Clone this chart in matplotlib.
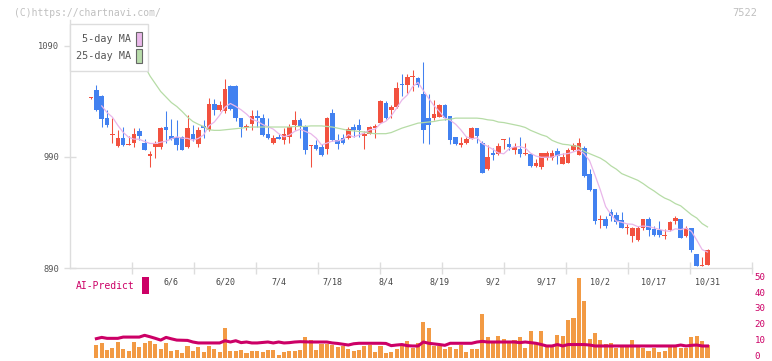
import numpy as np
import matplotlib
matplotlib.use("Agg")
from matplotlib import pyplot as plt
from matplotlib import patches
from matplotlib.transforms import blended_transform_factory, ScaledTranslation

## Daily candles, 5/16 .. 10/31 (116 sessions)
opens = [1043, 1050, 1045, 1025, 1010, 1000, 1007, 1001, 1003, 1013,
         1003, 991, 999, 999, 1017, 1009, 1008, 1008, 999, 1011,
         1002, 1018, 1014, 1038, 1032, 1031, 1054, 1054, 1025, 1017,
         1020, 1027, 1025, 1011, 1003, 1008, 1005, 1008, 1019, 1023,
         1017, 1000, 1001, 999, 997, 1030, 1005, 1007, 1007, 1017,
         1019, 1009, 1011, 1016, 1021, 1039, 1032, 1035, 1056, 1055,
         1062, 1061, 1047, 1025, 1025, 1026, 1037, 1027, 1008, 1001,
         1003, 1006, 1016, 1003, 979, 994, 993, 1005, 1002, 996,
         997, 993, 993, 982, 981, 989, 989, 995, 984, 985,
         996, 992, 998, 975, 961, 933, 934, 940, 938, 933,
         926, 919, 915, 926, 934, 925, 924, 919, 924, 932,
         934, 919, 926, 903, 892, 893]
highs = [1044, 1055, 1046, 1032, 1025, 1014, 1017, 1009, 1016, 1016,
         1006, 995, 1004, 1017, 1031, 1024, 1023, 1009, 1028, 1019,
         1017, 1023, 1043, 1042, 1040, 1060, 1055, 1055, 1025, 1020,
         1032, 1032, 1029, 1025, 1010, 1011, 1016, 1020, 1031, 1025,
         1019, 1001, 1005, 1002, 1026, 1033, 1011, 1011, 1017, 1020,
         1024, 1013, 1018, 1020, 1041, 1040, 1037, 1058, 1065, 1065,
         1068, 1062, 1076, 1047, 1041, 1038, 1038, 1027, 1008, 1008,
         1008, 1017, 1016, 1004, 1001, 998, 1003, 1006, 1008, 1003,
         1008, 1003, 994, 988, 994, 995, 996, 998, 994, 998,
         1003, 1007, 1000, 979, 961, 938, 937, 943, 940, 940,
         930, 927, 928, 934, 936, 928, 932, 925, 932, 937,
         934, 928, 926, 903, 900, 907]
lows = [1042, 1031, 1017, 1017, 1003, 999, 1000, 1001, 999, 1005,
        996, 981, 989, 997, 1003, 1005, 996, 996, 998, 1004,
        999, 1007, 1013, 1028, 1031, 1030, 1032, 1022, 1008, 1014,
        1014, 1017, 1009, 1006, 1002, 1006, 1002, 1003, 1014, 1007,
        993, 981, 996, 991, 993, 1004, 997, 1002, 1006, 1008,
        1008, 997, 1011, 1007, 1021, 1024, 1025, 1034, 1045, 1048,
        1049, 1053, 1003, 1002, 1023, 1026, 1023, 1002, 1001, 999,
        1002, 1006, 1003, 976, 978, 987, 992, 997, 996, 993,
        990, 992, 981, 981, 979, 987, 987, 984, 984, 985,
        995, 992, 972, 959, 930, 926, 926, 932, 930, 926,
        921, 913, 914, 924, 919, 919, 918, 916, 923, 930,
        917, 918, 904, 891.5, 891.5, 893]
closes = [1043, 1032, 1024, 1019, 1010, 1007, 1001, 1002, 1011, 1009,
          996, 993, 1002, 1016, 1014, 1006, 1001, 996, 1016, 1006,
          1014, 1016, 1038, 1032, 1037, 1051, 1033, 1025, 1017, 1018,
          1027, 1025, 1010, 1007, 1007, 1006, 1011, 1017, 1023, 1017,
          996, 1001, 997, 992, 1025, 1005, 1002, 1003, 1015, 1014,
          1014, 1011, 1017, 1018, 1040, 1025, 1035, 1052, 1055, 1062,
          1063, 1055, 1014, 1019, 1029, 1037, 1025, 1005, 1002, 1003,
          1006, 1016, 1009, 976, 990, 992, 1000, 1006, 999, 999,
          993, 994, 982, 985, 994, 994, 994, 991, 990, 996,
          1001, 1003, 973, 960, 932, 934, 928, 937, 931, 926,
          926, 926, 926, 934, 924, 920, 920, 919, 931, 935,
          917, 926, 906, 892, 892, 906]

nan = np.nan
ma5 = [nan, nan, 1036, 1030, 1025.8, 1018.5, 1012.2, 1007.8, 1006.1, 1006.0,
       1003.9, 1002.2, 1002.2, 1003.3, 1004.3, 1006.4, 1008.1, 1007.0, 1006.8, 1005.1,
       1006.7, 1009.8, 1018.1, 1021.5, 1027.6, 1034.9, 1038.2, 1035.6, 1032.5, 1028.7,
       1023.9, 1022.3, 1019.3, 1017.3, 1015.1, 1011.0, 1008.2, 1009.7, 1013.1, 1015.0,
       1013.0, 1011.0, 1007.0, 1000.8, 1002.5, 1004.3, 1004.5, 1005.6, 1010.2, 1008.0,
       1009.8, 1011.7, 1014.5, 1015.1, 1020.1, 1022.2, 1027.0, 1034.0, 1041.3, 1045.8,
       1053.4, 1057.2, 1049.8, 1042.7, 1036.1, 1030.9, 1025.0, 1023.1, 1019.6, 1014.4,
       1008.2, 1006.4, 1007.3, 1002.1, 999.5, 996.8, 993.6, 992.9, 997.4, 999.2,
       999.3, 998.1, 993.4, 990.8, 989.7, 989.8, 989.8, 991.5, 992.5, 993.1,
       994.6, 996.4, 992.8, 986.7, 973.8, 960.4, 945.3, 938.1, 932.3, 931.2,
       929.7, 929.4, 927.2, 927.8, 927.3, 926.1, 924.8, 923.5, 923.1, 925.3,
       924.6, 925.9, 923.0, 915.1, 906.6, 904.4]
ma25 = [nan, nan, nan, nan, nan, nan, nan, nan, nan, nan,
        1072, 1063, 1056, 1049, 1044, 1039, 1035.5, 1031, 1026, 1022,
        1019.5, 1017.5, 1014.5, 1014, 1014, 1014.5, 1015, 1015.5, 1016, 1016.6,
        1017, 1017, 1017, 1017, 1017, 1017, 1017, 1017, 1017.5, 1017.5,
        1017.5, 1018, 1018, 1018, 1017.5, 1017, 1016, 1015, 1014, 1013.5,
        1013, 1012.5, 1011.5, 1011, 1011, 1011, 1012, 1014, 1016, 1017.5,
        1019, 1020.5, 1021, 1021.5, 1022, 1023, 1023.5, 1024, 1025, 1025,
        1025, 1025, 1025, 1024.5, 1023.5, 1023, 1021.5, 1021, 1020, 1019,
        1018, 1016.6, 1014, 1012, 1010, 1008.5, 1005, 1003, 1001.5, 1001,
        1000, 999.5, 995, 993, 991, 989, 986, 982, 979, 975,
        973, 971, 969, 966, 962.5, 959.5, 956, 953, 951, 948,
        946, 942, 938, 935, 930, 927]

## Volume and AI-Predict (lower panel)
volume = [nan, 8.2, 9.5, 5.1, 6.3, 10.1, 5.7, 4.4, 10.1, 7,
          9.5, 10.8, 8.9, 5.7, 9.5, 4.4, 5.1, 3.2, 7.6, 4.4,
          7, 3.8, 7.6, 5.7, 3.8, 18.4, 4.4, 4.4, 5.1, 3.2,
          4.4, 4.4, 3.8, 5.1, 5.1, 1.9, 3.8, 4.4, 4.4, 5.1,
          13.3, 11.4, 5.1, 8.9, 8.9, 8.2, 7, 7.6, 5.7, 4.4,
          5.1, 7.6, 8.2, 3.8, 7.6, 3.2, 3.8, 5.7, 8.2, 10.8,
          6.3, 9.5, 22.6, 18.4, 7.6, 7.6, 5.7, 7, 5.7, 8.2,
          3.8, 5.7, 5.7, 27.8, 13.3, 10.8, 13.9, 12, 10.8, 11.4,
          13.3, 6.3, 17, 8.9, 17, 8.2, 7, 14.5, 13.9, 24,
          24.7, 50, 36, 12, 15.8, 11.4, 8.9, 9.5, 6.3, 7,
          7, 11.4, 7.6, 6.3, 4.4, 6.3, 3.8, 4.4, 7.6, 7.6,
          6.3, 6.3, 13.3, 13.9, 10.8, 8.2]
ai_predict = [nan, 12.0, 12.8, 12.2, 12.2, 12.2, 13.0, 13.0, 13.0, 13.0,
              14.1, 13.2, 12.2, 11.1, 12.8, 11.9, 11.1, 11.0, 10.9, 9.9,
              9.3, 9.3, 9.3, 9.3, 9.3, 10.7, 9.9, 10.7, 9.5, 9.9,
              9.3, 9.3, 9.6, 9.9, 9.3, 9.9, 9.3, 9.5, 9.9, 10.1,
              10.0, 9.9, 9.9, 9.9, 9.9, 9.3, 9.0, 8.5, 8.0, 8.8,
              9.1, 9.1, 9.1, 9.1, 9.1, 9.0, 7.6, 8.0, 8.3, 7.6,
              7.4, 7.4, 9.9, 9.1, 8.7, 8.3, 7.8, 9.1, 9.1, 9.1,
              9.1, 9.1, 9.9, 10.3, 9.9, 9.9, 9.9, 9.9, 9.9, 9.9,
              9.5, 9.9, 9.5, 9.1, 8.3, 7.4, 7.4, 8.3, 7.4, 8.3,
              8.3, 8.3, 8.3, 8.0, 7.4, 7.4, 7.4, 7.4, 7.4, 7.4,
              7.4, 7.4, 7.4, 7.4, 7.4, 7.4, 7.4, 7.4, 7.4, 7.4,
              8.0, 7.4, 7.8, 8.0, 7.4, 7.4]

date_idx = [15, 25, 35, 45, 55, 65, 75, 85, 95, 105, 115]
date_labels = ["6/6", "6/20", "7/4", "7/18", "8/4", "8/19", "9/2", "9/17",
               "10/2", "10/17", "10/31"]
price_ticks = [890, 990, 1090]
vol_ticks = [0, 10, 20, 30, 40, 50]

RED = "#f2513f"
BLUE = "#4281f0"
CRIMSON = "#cc0066"
GRID = "#dddddd"
MONO = "DejaVu Sans Mono"
W, H = 772.0, 361.0

plt.rcParams["font.family"] = MONO

fig = plt.figure(figsize=(W / 100, H / 100), dpi=100)
fig.patch.set_facecolor("white")

x = np.arange(len(opens))
o = np.array(opens, float)
h = np.array(highs, float)
l = np.array(lows, float)
c = np.array(closes, float)
up = c >= o
col = np.where(up, RED, BLUE)
xlim = (-3.92, 123.3)

## price panel
ax = fig.add_axes([70 / W, (H - 268) / H, 682 / W, 248 / H])
ax.set_xlim(*xlim)
ax.set_ylim(890.3, 1113.4)
ax.vlines(x, l, h, colors=col, linewidth=0.75, zorder=3)
body_lo = np.minimum(o, c)
body_h = np.maximum(np.abs(c - o), 0.9)
ax.bar(x, body_h, bottom=body_lo, width=0.86, color=col, linewidth=0, zorder=4)
ax.plot(x, ma5, color="#e9b6ea", linewidth=0.9, zorder=5)
ax.plot(x, ma25, color="#b6dca6", linewidth=0.9, zorder=5)

for s in ["top", "right"]:
    ax.spines[s].set_visible(False)
for s in ["left", "bottom"]:
    ax.spines[s].set_color(GRID)
    ax.spines[s].set_linewidth(1.0)
ax.set_yticks(price_ticks)
ax.set_yticklabels([str(v) for v in price_ticks], fontsize=6.3, color="#555555")
step = (xlim[1] - xlim[0]) / 11.0
ax.set_xticks([xlim[0] + k * step for k in range(1, 12)])
ax.tick_params(axis="both", direction="inout", length=8, width=1.0, color=GRID)
ax.tick_params(axis="x", labelbottom=False)
ax.tick_params(axis="y", pad=4)
ax.set_facecolor("none")

trans = blended_transform_factory(ax.transData, ax.transAxes)
for i, lab in zip(date_idx, date_labels):
    ax.text(i, -14 / 248.0, lab, transform=trans, ha="center", va="center",
            fontsize=6, color="#444444", clip_on=False)

## legend box
def fx(px):
    return px / W

def fy(py):
    return 1 - py / H

ax.add_patch(patches.Rectangle((fx(70), fy(71)), fx(148) - fx(70), fy(24) - fy(71),
                               transform=fig.transFigure, facecolor="white",
                               edgecolor=GRID, linewidth=1.0, zorder=10, clip_on=False))
for lab, yc, fc in [("5-day MA", 39, "#eab8ea"), ("25-day MA", 56, "#b8dcaa")]:
    ax.text(fx(131), fy(yc), lab, transform=fig.transFigure, ha="right", va="center",
            fontsize=7.3, color="#555555", zorder=11)
    ax.add_patch(patches.Rectangle((fx(136), fy(yc + 7)), fx(6), fy(0) - fy(14),
                                   transform=fig.transFigure, facecolor=fc,
                                   edgecolor="#666666", linewidth=0.8, zorder=11,
                                   clip_on=False))

## volume panel
axv = fig.add_axes([70 / W, (H - 359) / H, 682 / W, (359 - 278.3) / H])
axv.set_xlim(*xlim)
axv.set_ylim(-0.8, 50)
axv.bar(x, volume, width=0.76, color="#f29a44", linewidth=0, zorder=2)
axv.plot(x, ai_predict, color=CRIMSON, linewidth=2.2, zorder=3)
for s in axv.spines.values():
    s.set_visible(False)
axv.set_xticks([])
axv.yaxis.tick_right()
axv.set_yticks(vol_ticks)
axv.set_yticklabels([str(v) for v in vol_ticks], fontsize=6.6, color=CRIMSON)
axv.tick_params(axis="y", length=0, pad=2)
lift = ScaledTranslation(0, 1.5 / 72, fig.dpi_scale_trans)
for t in axv.get_yticklabels():
    t.set_transform(t.get_transform() + lift)
axv.set_facecolor("none")

fig.text(fx(76), fy(286), "AI-Predict", ha="left", va="center", fontsize=7, color=CRIMSON)
fig.patches.append(patches.Rectangle((fx(142), fy(294)), fx(7), fy(0) - fy(17),
                                     transform=fig.transFigure, facecolor=CRIMSON,
                                     linewidth=0))

## header
fig.text(fx(14), fy(13), "(C)https://chartnavi.com/", ha="left", va="center",
         fontsize=7, color="#c0c0c0")
fig.text(fx(757), fy(13), "7522", ha="right", va="center", fontsize=7.5, color="#c0c0c0")

fig.savefig("out.png", dpi=100)
